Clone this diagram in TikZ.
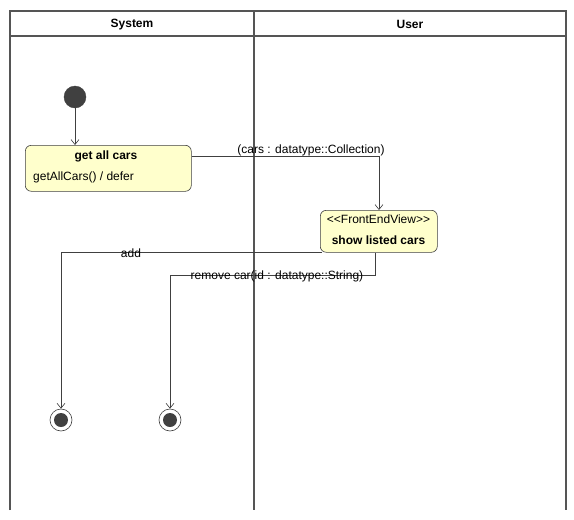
\documentclass[tikz,border=0pt]{standalone}
\usepackage{fontspec}
\setmainfont{Liberation Sans}
\usetikzlibrary{arrows.meta}
\definecolor{stfill}{HTML}{FFFFCC}
\definecolor{stline}{HTML}{404040}
\definecolor{frameline}{HTML}{555555}
\tikzset{
  lane/.style={draw=frameline, line width=1.6pt},
  statebox/.style={draw=stline, fill=stfill, rounded corners=6pt, line width=0.6pt},
  flow/.style={draw=stline, line width=0.6pt, -{Straight Barb[length=5pt,width=8pt]}},
  lbl/.style={font=\fontsize{12}{14}\selectfont, inner sep=0pt},
  blbl/.style={font=\bfseries\fontsize{12}{14}\selectfont, inner sep=0pt},
  initial/.style={circle, fill=stline, draw=stline, minimum size=22pt, inner sep=0pt},
  finalouter/.style={circle, draw=stline, fill=white, line width=0.6pt, minimum size=22pt, inner sep=0pt},
  finalinner/.style={circle, fill=stline, minimum size=14pt, inner sep=0pt},
}
\begin{document}
\begin{tikzpicture}[x=1pt,y=-1pt]
\useasboundingbox (0,0) rectangle (574,520);
% swimlanes
\draw[lane] (10,510) -- (10,11) -- (566,11) -- (566,510);
\draw[lane] (10,36) -- (566,36);
\draw[lane] (254,11) -- (254,510);
\node[blbl] (hsys) at (132,24.5) {System};
\node[blbl] (husr) at (410,24.5) {User};
% initial node
\node[initial] (init) at (75,97) {};
% get all cars
\node[statebox, minimum width=166pt, minimum height=46pt, anchor=north west] (getall) at (25,145) {};
\node[blbl] (getallt) at (106,156.5) {get all cars};
\node[lbl, anchor=west] (getallb) at (33,177.5) {getAllCars() / defer};
% show listed cars
\node[statebox, minimum width=117pt, minimum height=42pt, anchor=north west] (show) at (320,210) {};
\node[lbl] (showst) at (378.5,219) {<{}<FrontEndView>{}>};
\node[blbl] (showt) at (378.5,240.5) {show listed cars};
% final nodes
\node[finalouter] (fin1) at (61,420) {};
\node[finalinner] (fin1i) at (fin1) {};
\node[finalouter] (fin2) at (170,420) {};
\node[finalinner] (fin2i) at (fin2) {};
% corner coordinates
\coordinate (c1) at (379,156);
\coordinate (c2) at (61,252.5);
\coordinate (c3a) at (375,275);
\coordinate (c3b) at (170,275);
% connectors
\draw[flow] (init) -- (init |- getall.north);
\draw[flow] (getall.east |- c1) -- (c1) -- (show.north -| c1);
\draw[flow] (show.south west |- c2) ++(2,0) -- (c2) -- (fin1);
\draw[flow] (show.south -| c3a) -- (c3a) -- (c3b) -- (fin2);
% labels
\node[lbl] (l1) at (311,150.5) {(cars : datatype::Collection)};
\node[lbl] (l2) at (131,253.5) {add};
\node[lbl] (l3) at (277,276.5) {remove car(id : datatype::String)};
\end{tikzpicture}
\end{document}
